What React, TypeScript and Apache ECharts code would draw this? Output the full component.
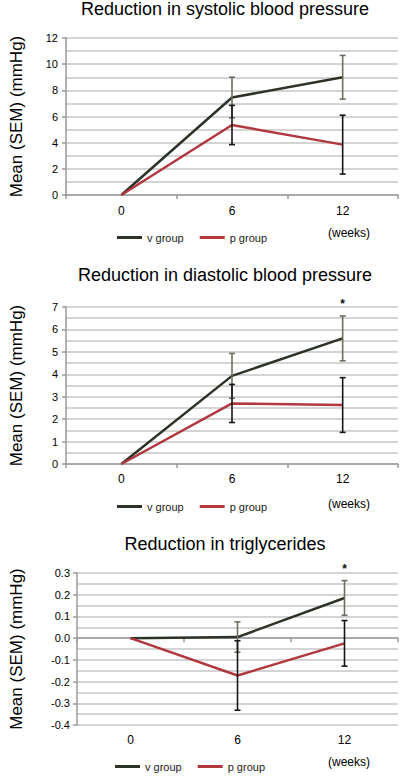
import React, { useEffect, useRef } from "react";
import * as echarts from "echarts";

const weeks = ["0", "6", "12"];

const titles = [
  "Reduction in systolic blood pressure",
  "Reduction in diastolic blood pressure",
  "Reduction in triglycerides",
];

// Systolic blood pressure
const sysV = [0, 7.45, 9.0];
const sysVSem = [0, 1.55, 1.67];
const sysP = [0, 5.35, 3.85];
const sysPSem = [0, 1.5, 2.25];
const sysSig = ["", "", ""];

// Diastolic blood pressure
const diaV = [0, 3.93, 5.6];
const diaVSem = [0, 1.0, 1.0];
const diaP = [0, 2.7, 2.63];
const diaPSem = [0, 0.85, 1.22];
const diaSig = ["", "", "*"];

// Triglycerides
const tgV = [0, 0.005, 0.185];
const tgVSem = [0, 0.07, 0.08];
const tgP = [0, -0.172, -0.024];
const tgPSem = [0, 0.16, 0.105];
const tgSig = ["", "", "*"];

const yMin = [0, 0, -0.4];
const yMax = [12, 7, 0.3];
const yInterval = [2, 1, 0.1];

const V_COLOR = "#2c3327";
const P_COLOR = "#b2383f";
const V_ERR = "#6c705e";
const P_ERR = "#161616";
const GRID_COLOR = "#c6c6c6";
const AXIS_COLOR = "#9a9a9a";
const FONT = "'Liberation Sans', Arial, sans-serif";

const grids = [
  { left: 51, top: 38, width: 347, height: 157 },
  { left: 51, top: 307, width: 347, height: 157 },
  { left: 62, top: 573, width: 336, height: 152 },
];

function errorSeries(
  name: string,
  gi: number,
  means: number[],
  sems: number[],
  color: string,
  sig: string[] | null
) {
  const data = means
    .map((m, i) => [i, m - sems[i], m + sems[i], sems[i]])
    .filter((d) => d[3] > 0);
  return {
    type: "custom",
    name,
    xAxisIndex: gi,
    yAxisIndex: gi,
    data,
    encode: { x: 0, y: [1, 2] },
    z: 5,
    renderItem: (params: any, api: any) => {
      const i = api.value(0);
      const top = api.coord([i, api.value(2)]);
      const bot = api.coord([i, api.value(1)]);
      const w = 3;
      const st = { stroke: color, lineWidth: 1.6 };
      const children: any[] = [
        { type: "line", shape: { x1: top[0], y1: top[1], x2: bot[0], y2: bot[1] }, style: st },
        { type: "line", shape: { x1: top[0] - w, y1: top[1], x2: top[0] + w, y2: top[1] }, style: st },
        { type: "line", shape: { x1: bot[0] - w, y1: bot[1], x2: bot[0] + w, y2: bot[1] }, style: st },
      ];
      const s = sig ? sig[i] : "";
      if (s) {
        children.push({
          type: "text",
          style: {
            text: s,
            x: top[0],
            y: top[1] - 12,
            align: "center",
            verticalAlign: "middle",
            fontSize: 12,
            fontWeight: "bold",
            fontFamily: FONT,
            fill: "#111",
          },
        });
      }
      return { type: "group", children };
    },
  };
}

export default function App() {
  const ref = useRef<HTMLDivElement>(null);

  useEffect(() => {
    if (!ref.current) return;
    const chart = echarts.init(ref.current, null, { renderer: "svg" });

    const sets = [
      { v: sysV, vs: sysVSem, p: sysP, ps: sysPSem, sig: sysSig },
      { v: diaV, vs: diaVSem, p: diaP, ps: diaPSem, sig: diaSig },
      { v: tgV, vs: tgVSem, p: tgP, ps: tgPSem, sig: tgSig },
    ];

    const titleTops = [0, 266, 535];
    const legendTops = [232, 501, 761];
    const legendLefts = [117, 117, 115];
    const weeksY = [233, 504, 762];
    const nameGaps = [41, 41, 52];

    const xAxes: any[] = [0, 1, 2].map((gi) => ({
      type: "category",
      gridIndex: gi,
      data: weeks,
      boundaryGap: true,
      axisLine: { show: true, onZero: true, lineStyle: { color: AXIS_COLOR, width: 1.5 } },
      axisTick: { show: true, length: 4, lineStyle: { color: AXIS_COLOR, width: 1.5 } },
      axisLabel: {
        show: gi !== 2,
        margin: gi === 0 ? 10 : 9,
        fontSize: 12,
        fontFamily: FONT,
        color: "#000",
      },
      splitLine: { show: false },
    }));
    // label-only x axis at the bottom of the triglycerides chart
    xAxes.push({
      type: "category",
      gridIndex: 2,
      position: "bottom",
      data: weeks,
      boundaryGap: true,
      axisLine: { show: false, onZero: false },
      axisTick: { show: false },
      axisLabel: { show: true, margin: 9, fontSize: 12, fontFamily: FONT, color: "#000" },
      splitLine: { show: false },
    });

    const yAxes = [0, 1, 2].map((gi) => ({
      type: "value",
      gridIndex: gi,
      min: yMin[gi],
      max: yMax[gi],
      interval: yInterval[gi],
      name: "Mean (SEM) (mmHg)",
      nameLocation: "middle",
      nameRotate: 90,
      nameGap: nameGaps[gi],
      nameTextStyle: { fontSize: 17, fontFamily: FONT, color: "#000" },
      axisLine: { show: true, lineStyle: { color: AXIS_COLOR, width: 1.5 } },
      axisTick: { show: true, length: 4, lineStyle: { color: AXIS_COLOR, width: 1.5 } },
      axisLabel: {
        margin: gi === 2 ? 7 : 8,
        fontSize: 11,
        fontFamily: FONT,
        color: "#000",
        formatter: (val: number) => (gi === 2 ? val.toFixed(1) : String(val)),
      },
      splitLine: { show: true, lineStyle: { color: GRID_COLOR, width: 1.5 } },
      minorTick: { show: false, splitNumber: 2 },
      minorSplitLine: { show: true, lineStyle: { color: GRID_COLOR, width: 1.5 } },
    }));

    const series: any[] = [];
    sets.forEach((s, gi) => {
      series.push({
        type: "line",
        name: "v group",
        xAxisIndex: gi,
        yAxisIndex: gi,
        data: s.v,
        symbol: "none",
        lineStyle: { color: V_COLOR, width: 2.5 },
        itemStyle: { color: V_COLOR },
        z: 3,
      });
      series.push({
        type: "line",
        name: "p group",
        xAxisIndex: gi,
        yAxisIndex: gi,
        data: s.p,
        symbol: "none",
        lineStyle: { color: P_COLOR, width: 2.5 },
        itemStyle: { color: P_COLOR },
        z: 4,
      });
      series.push(errorSeries("v group SEM", gi, s.v, s.vs, V_ERR, s.sig));
      series.push(errorSeries("p group SEM", gi, s.p, s.ps, P_ERR, null));
    });

    chart.setOption({
      animation: false,
      backgroundColor: "#ffffff",
      title: titles.map((t, gi) => ({
        text: t,
        left: 225,
        top: titleTops[gi],
        padding: 0,
        textAlign: "center",
        textStyle: { fontSize: 18, fontWeight: "normal", fontFamily: FONT, color: "#000" },
      })),
      legend: [0, 1, 2].map((gi) => ({
        data: ["v group", "p group"],
        left: legendLefts[gi],
        top: legendTops[gi],
        padding: 0,
        icon: "rect",
        itemWidth: 25,
        itemHeight: 3,
        itemGap: 16,
        selectedMode: false,
        textStyle: { fontSize: 11, fontFamily: FONT, color: "#222" },
      })),
      grid: grids,
      xAxis: xAxes,
      yAxis: yAxes,
      series,
      graphic: [0, 1, 2].map((gi) => ({
        type: "text",
        x: 328,
        y: weeksY[gi],
        style: {
          text: "(weeks)",
          fontSize: 12,
          fontFamily: FONT,
          fill: "#000",
          verticalAlign: "middle",
        },
      })),
    });

    return () => chart.dispose();
  }, []);

  return (
    <div
      ref={ref}
      style={{ position: "fixed", left: 0, top: 0, width: 403, height: 776, background: "#fff" }}
    />
  );
}
